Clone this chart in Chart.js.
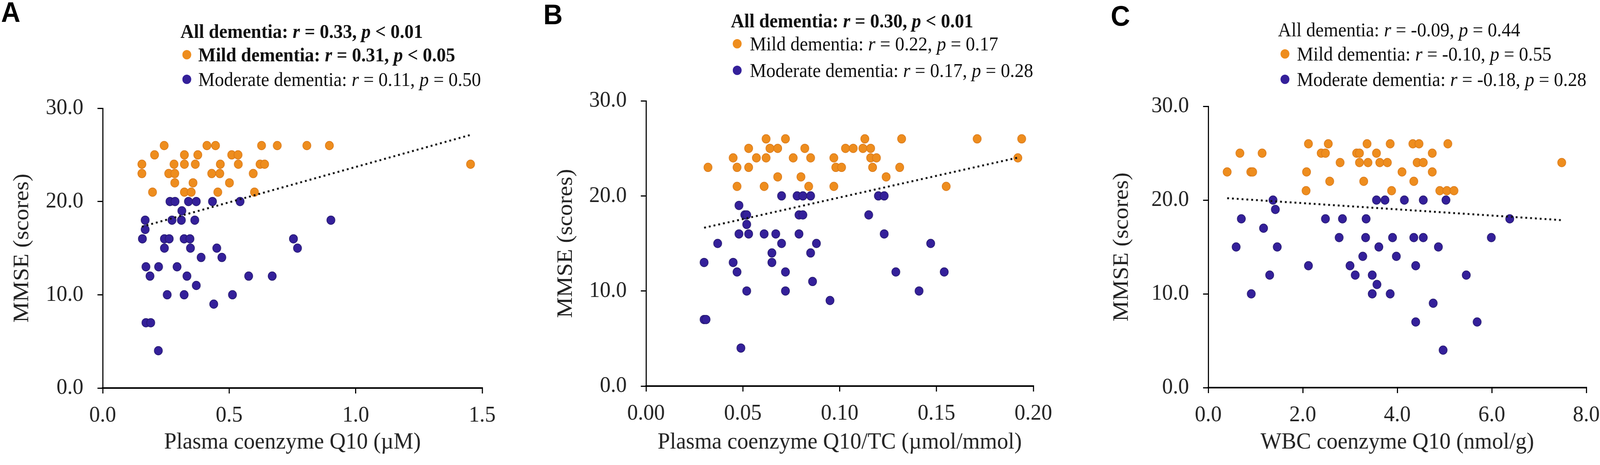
<!DOCTYPE html>
<html>
<head>
<meta charset="utf-8">
<script src="https://cdn.jsdelivr.net/npm/chart.js@4.4.1/dist/chart.umd.min.js"></script>
<style>
  body { margin: 0; background: #fff; overflow: hidden; }
  #page { position: relative; width: 4317px; height: 1190px; overflow: hidden; background: #fff; transform-origin: 0 0; }
  canvas { position: absolute; top: 0; }
  .tag { position: absolute; font-family: "Liberation Sans", Arial, sans-serif; font-weight: bold; font-size: 72px; line-height: 1; color: #000; }
  .leg { position: absolute; font-family: "Liberation Serif", "Times New Roman", serif; font-size: 50px; line-height: 50px; white-space: nowrap; color: #111; }
  .dot { position: absolute; width: 24px; height: 24px; border-radius: 50%; }
</style>
</head>
<body>
<div id="page">
  <canvas id="chartA" width="1440" height="1190" style="left:0px"></canvas>
  <canvas id="chartB" width="1440" height="1190" style="left:1440px"></canvas>
  <canvas id="chartC" width="1500" height="1190" style="left:2880px"></canvas>
</div>
<script>
// groups shown in every legend
const groupNames = ['All dementia', 'Mild dementia', 'Moderate dementia'];

// ---- panel A : plasma coenzyme Q10 ----
const aMildX = [0.243, 0.412, 0.446, 0.628, 0.69, 0.807, 0.896,
                0.205, 0.323, 0.376, 0.51, 0.535,
                0.155, 0.282, 0.323, 0.366, 0.465, 0.536, 0.622, 0.64, 1.454,
                0.155, 0.261, 0.285, 0.431, 0.463, 0.595,
                0.285, 0.357, 0.501,
                0.197, 0.323, 0.35, 0.455, 0.6];
const aMildY = [26, 26, 26, 26, 26, 26, 26,
                25, 25, 25, 25, 25,
                24, 24, 24, 24, 24, 24, 24, 24, 24,
                23, 23, 23, 23, 23, 23,
                22, 22, 22,
                21, 21, 21, 21, 21];
const aModX = [0.266, 0.286, 0.339, 0.37, 0.434, 0.543,
               0.313,
               0.168, 0.274, 0.311, 0.364, 0.902,
               0.168,
               0.157, 0.244, 0.263, 0.322, 0.345, 0.754,
               0.244, 0.347, 0.451, 0.77,
               0.389, 0.471,
               0.171, 0.221, 0.294,
               0.187, 0.333, 0.577, 0.67,
               0.37,
               0.255, 0.322, 0.513,
               0.439,
               0.171, 0.19,
               0.22];
const aModY = [20, 20, 20, 20, 20, 20,
               19,
               18, 18, 18, 18, 18,
               17,
               16, 16, 16, 16, 16, 16,
               15, 15, 15, 15,
               14, 14,
               13, 13, 13,
               12, 12, 12, 12,
               11,
               10, 10, 10,
               9,
               7, 7,
               4];
const aTrendX = [0.155, 1.455];
const aTrendY = [17.3, 27.15];
const aR = ['0.33', '0.31', '0.11'];
const aP = ['< 0.01', '< 0.05', '= 0.50'];
const aBold = [true, true, false];

// ---- panel B : plasma coenzyme Q10/TC ----
const bMildX = [0.062, 0.072, 0.113, 0.132, 0.171, 0.194,
                0.053, 0.064, 0.068, 0.082, 0.103, 0.107, 0.112, 0.116,
                0.045, 0.057, 0.062, 0.076, 0.085, 0.097, 0.116, 0.119, 0.192,
                0.032, 0.047, 0.053, 0.098, 0.101, 0.117, 0.131,
                0.068, 0.080, 0.124,
                0.047, 0.061, 0.084, 0.097, 0.155];
const bMildY = [26, 26, 26, 26, 26, 26,
                25, 25, 25, 25, 25, 25, 25, 25,
                24, 24, 24, 24, 24, 24, 24, 24, 24,
                23, 23, 23, 23, 23, 23, 23,
                22, 22, 22,
                21, 21, 21, 21, 21];
const bModX = [0.070, 0.078, 0.081, 0.085, 0.120, 0.123,
               0.048,
               0.051, 0.052, 0.079, 0.081, 0.115,
               0.052,
               0.048, 0.053, 0.061, 0.067, 0.079, 0.123,
               0.037, 0.070, 0.088, 0.147,
               0.065, 0.085,
               0.030, 0.045, 0.065,
               0.047, 0.072, 0.129, 0.154,
               0.086,
               0.052, 0.072, 0.141,
               0.095,
               0.030, 0.031,
               0.049];
const bModY = [20, 20, 20, 20, 20, 20,
               19,
               18, 18, 18, 18, 18,
               17,
               16, 16, 16, 16, 16, 16,
               15, 15, 15, 15,
               14, 14,
               13, 13, 13,
               12, 12, 12, 12,
               11,
               10, 10, 10,
               9,
               7, 7,
               4];
const bTrendX = [0.030, 0.193];
const bTrendY = [16.65, 24.07];
const bR = ['0.30', '0.22', '0.17'];
const bP = ['< 0.01', '= 0.17', '= 0.28'];
const bBold = [true, false, false];

// ---- panel C : WBC coenzyme Q10 ----
const cMildX = [2.12, 2.54, 3.36, 3.85, 4.33, 4.46, 5.07,
                0.67, 1.14, 2.39, 2.48, 3.14, 3.2, 3.56, 4.74,
                2.79, 3.2, 3.38, 3.63, 3.79, 4.42, 4.55, 7.48,
                0.4, 0.9, 0.94, 2.08, 4.1, 4.74,
                2.57, 3.29, 4.35,
                2.07, 3.88, 4.9, 5.05, 5.2];
const cMildY = [26, 26, 26, 26, 26, 26, 26,
                25, 25, 25, 25, 25, 25, 25, 25,
                24, 24, 24, 24, 24, 24, 24, 24,
                23, 23, 23, 23, 23, 23,
                22, 22, 22,
                21, 21, 21, 21, 21];
const cModX = [1.37, 3.56, 3.74, 4.15, 4.55, 5.03,
               1.42,
               0.7, 2.48, 2.84, 3.34, 6.38,
               1.17,
               2.77, 3.33, 3.9, 4.35, 4.55, 5.99,
               0.59, 1.46, 3.61, 4.87,
               3.27, 3.98,
               2.12, 3.0, 4.39,
               1.3, 3.11, 3.47, 5.46,
               3.57,
               0.91, 3.47, 3.85,
               4.76,
               4.39, 5.69,
               4.97];
const cModY = [20, 20, 20, 20, 20, 20,
               19,
               18, 18, 18, 18, 18,
               17,
               16, 16, 16, 16, 16, 16,
               15, 15, 15, 15,
               14, 14,
               13, 13, 13,
               12, 12, 12, 12,
               11,
               10, 10, 10,
               9,
               7, 7,
               4];
const cTrendX = [0.4, 7.48];
const cTrendY = [20.2, 17.86];
const cR = ['-0.09', '-0.10', '-0.18'];
const cP = ['= 0.44', '= 0.55', '= 0.28'];
const cBold = [false, false, false];

const yTicksMax = 30;
const yTickStep = 10;

const mildColor = '#EE8D1E';
const modColor = '#34209A';
const serif = '"Liberation Serif", "Times New Roman", serif';

// the layout is made for 4317 px; squeeze it if the window is narrower
const page = document.getElementById('page');
const sx = Math.min(1, window.innerWidth / 4317);
page.style.transform = 'scaleX(' + sx + ')';

function pts(xs, ys) {
  return xs.map((x, i) => ({ x: x, y: ys[i] }));
}

function makeChart(id, p) {
  const ctx = document.getElementById(id).getContext('2d');
  return new Chart(ctx, {
    type: 'scatter',
    data: {
      datasets: [
        {
          data: pts(p.trendX, p.trendY),
          showLine: true,
          borderColor: '#111',
          borderWidth: 5,
          borderDash: [5, 8],
          pointRadius: 0,
          order: 0
        },
        {
          data: pts(p.mildX, p.mildY),
          backgroundColor: mildColor,
          borderColor: '#D9791A',
          borderWidth: 1.5,
          pointRadius: 11,
          order: 1
        },
        {
          data: pts(p.modX, p.modY),
          backgroundColor: modColor,
          borderColor: '#24186E',
          borderWidth: 1.5,
          pointRadius: 11,
          order: 2
        }
      ]
    },
    options: {
      responsive: false,
      animation: false,
      devicePixelRatio: 1,
      layout: { padding: { left: 0, top: p.top, right: p.padR, bottom: 0 } },
      plugins: { legend: { display: false }, tooltip: { enabled: false } },
      scales: {
        x: {
          type: 'linear',
          min: 0,
          max: p.xMax,
          afterFit: (s) => { s.height = p.xH; },
          ticks: {
            stepSize: p.xStep,
            autoSkip: false,
            maxRotation: 0,
            padding: 22,
            color: '#222',
            font: { family: serif, size: 58 },
            callback: (v) => Number(v).toFixed(p.xDec)
          },
          grid: { drawOnChartArea: false, drawTicks: true, tickLength: 14, color: '#000', lineWidth: 3 },
          border: { display: true, color: '#000', width: 4 },
          title: {
            display: true,
            text: p.xTitle,
            color: '#222',
            font: { family: serif, size: 60 },
            padding: { top: 0, bottom: 22 }
          }
        },
        y: {
          type: 'linear',
          min: 0,
          max: yTicksMax,
          afterFit: (s) => { s.width = p.yW; },
          ticks: {
            stepSize: yTickStep,
            padding: 38,
            color: '#222',
            font: { family: serif, size: 58 },
            callback: (v) => Number(v).toFixed(1)
          },
          grid: { drawOnChartArea: false, drawTicks: true, tickLength: 14, color: '#000', lineWidth: 3 },
          border: { display: true, color: '#000', width: 3 },
          title: {
            display: true,
            text: 'MMSE (scores)',
            color: '#222',
            font: { family: serif, size: 60 },
            padding: { top: p.yTitlePad, bottom: 0 }
          }
        }
      }
    }
  });
}

// legend block above each panel
function addLegend(pg, tag, r, pv, bold) {
  const t = document.createElement('div');
  t.className = 'tag';
  t.textContent = tag.text;
  t.style.left = tag.x + 'px';
  t.style.top = tag.y + 'px';
  page.appendChild(t);

  for (let i = 0; i < 3; i++) {
    const line = document.createElement('div');
    line.className = 'leg';
    let html = groupNames[i] + ': <i>r</i> = ' + r[i] + ', <i>p</i> ' + pv[i].replace('<', '&lt;');
    if (bold[i]) html = '<b>' + html + '</b>';
    line.innerHTML = html;
    line.style.left = (i === 0 ? pg.x0 : pg.xText) + 'px';
    line.style.top = (pg.rows[i] - 25) + 'px';
    page.appendChild(line);
    if (i > 0) {
      const d = document.createElement('div');
      d.className = 'dot';
      d.style.background = i === 1 ? mildColor : modColor;
      d.style.left = (pg.xDot - 12) + 'px';
      d.style.top = (pg.rows[i] - 12) + 'px';
      page.appendChild(d);
    }
  }
}

makeChart('chartA', {
  mildX: aMildX, mildY: aMildY, modX: aModX, modY: aModY, trendX: aTrendX, trendY: aTrendY,
  xMax: 1.5, xStep: 0.5, xDec: 1, xTitle: 'Plasma coenzyme Q10 (\u00b5M)',
  top: 277, xH: 197, yW: 277, padR: 139, yTitlePad: 24
});
makeChart('chartB', {
  mildX: bMildX, mildY: bMildY, modX: bModX, modY: bModY, trendX: bTrendX, trendY: bTrendY,
  xMax: 0.2, xStep: 0.05, xDec: 2, xTitle: 'Plasma coenzyme Q10/TC (\u00b5mol/mmol)',
  top: 258, xH: 202, yW: 303, padR: 92, yTitlePad: 51
});
makeChart('chartC', {
  mildX: cMildX, mildY: cMildY, modX: cModX, modY: cModY, trendX: cTrendX, trendY: cTrendY,
  xMax: 8, xStep: 2, xDec: 1, xTitle: 'WBC coenzyme Q10 (nmol/g)',
  top: 272, xH: 198, yW: 380, padR: 100, yTitlePad: 111
});

addLegend({ x0: 487, xDot: 504, xText: 535, rows: [80, 140, 203] }, { text: 'A', x: 3, y: -5 }, aR, aP, aBold);
addLegend({ x0: 1972, xDot: 1989, xText: 2023, rows: [53, 112, 180] }, { text: 'B', x: 1466, y: 1 }, bR, bP, bBold);
addLegend({ x0: 3448, xDot: 3467, xText: 3499, rows: [76, 138, 203] }, { text: 'C', x: 2997, y: 5 }, cR, cP, cBold);
</script>
</body>
</html>
